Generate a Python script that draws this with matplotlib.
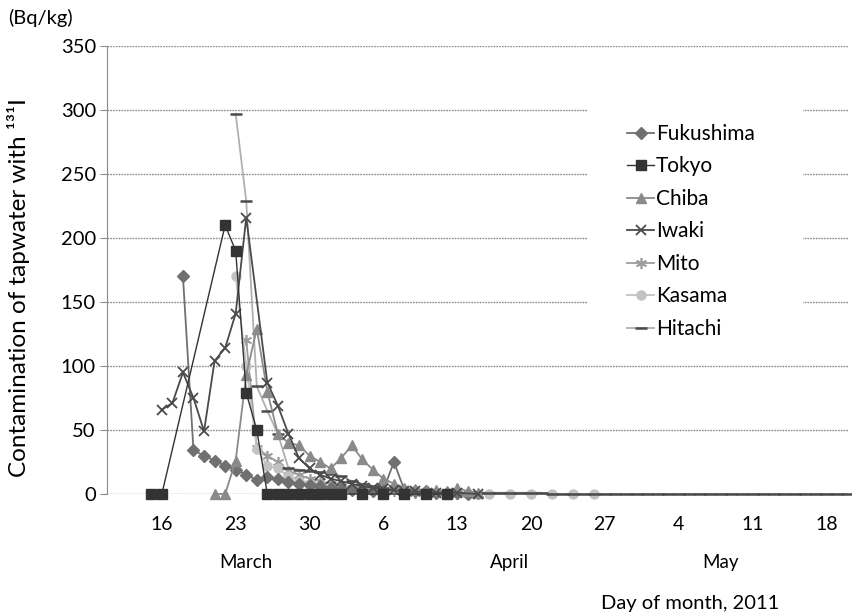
import numpy as np
import matplotlib
matplotlib.use("Agg")
import matplotlib.pyplot as plt
import matplotlib.transforms as mtransforms
from matplotlib.patches import Rectangle

plt.rcParams['font.family'] = ['Lato', 'DejaVu Sans']

# Day numbers counted from 1 March 2011 (1 April = 32, 1 May = 62)
fukushima_days = [18, 19, 20, 21, 22, 23, 24, 25, 26, 27, 28, 29, 30, 31, 32,
                  33, 34, 35, 36, 37, 38, 39, 40, 41, 42, 43, 44, 45]
fukushima = [170, 34, 30, 26, 22, 19, 15, 11, 13, 12, 9, 8, 7, 6, 5,
             4, 3, 3, 2, 3, 25, 3, 2, 2, 1, 1, 1, 0]

tokyo_days = [15, 16, 22, 23, 24, 25, 26, 27, 28, 29, 30, 31, 32, 33,
              35, 37, 39, 41, 43]
tokyo = [0, 0, 210, 190, 79, 50, 0, 0, 0, 0, 0, 0, 0, 0,
         0, 0, 0, 0, 0]

chiba_days = [21, 22, 23, 24, 25, 26, 27, 28, 29, 30, 31, 32, 33, 34, 35,
              36, 37, 38, 39, 40, 41, 42, 43, 44, 45, 46]
chiba = [0, 0, 26, 93, 129, 80, 47, 40, 38, 30, 25, 20, 28, 38, 27,
         19, 12, 8, 5, 4, 3, 3, 2, 5, 2, 1]

iwaki_days = [16, 17, 18, 19, 20, 21, 22, 23, 24, 26, 27, 28, 29, 30, 31,
              32, 33, 34, 35, 36, 37, 38, 39, 40, 42, 44, 46]
iwaki = [66, 71, 95, 75, 49, 104, 114, 141, 216, 87, 69, 47, 28, 20, 15,
         12, 10, 8, 6, 5, 4, 3, 2, 2, 1, 1, 0]

mito_days = [24, 25, 26, 27, 28, 29, 30, 31, 32, 33, 34, 35, 36, 37, 38,
             39, 40, 41, 42, 43, 44, 45, 46]
mito = [120, 36, 30, 25, 18, 15, 12, 10, 8, 6, 5, 4, 3, 2, 2,
        1, 1, 1, 1, 0, 0, 0, 0]

kasama_days = [23, 24, 25, 26, 27, 28, 29, 30, 31, 32, 33, 35, 37, 39, 41,
               43, 45, 47, 49, 51, 53, 55, 57]
kasama = [170, 100, 35, 22, 20, 14, 10, 8, 6, 5, 3, 0, 0, 0, 0,
          0, 0, 0, 0, 0, 0, 0, 0]

hitachi_days = list(range(23, 82))
hitachi = [297, 229, 84, 65, 47, 20, 19, 18, 17, 16, 14, 10, 8, 6, 5,
           4, 3, 3, 2, 2, 2, 1, 1, 1, 1, 1, 1, 1, 1, 1,
           0, 0, 0, 0, 0, 0, 0, 0, 0, 0, 0, 0, 0, 0, 0,
           0, 0, 0, 0, 0, 0, 0, 0, 0, 0, 0, 0, 0, 0]

tick_days = [16, 23, 30, 37, 44, 51, 58, 65, 72, 79]
tick_labels = ['16', '23', '30', '6', '13', '20', '27', '4', '11', '18']
months = ['March', 'April', 'May']
month_days = [24, 49, 69]

fig = plt.figure(figsize=(8.52, 6.14), dpi=100)
ax = fig.add_axes([107 / 852, 1 - 494 / 614, 741 / 852, 448 / 614])

common = dict(clip_on=False, linewidth=1.3)
ax.plot(fukushima_days, fukushima, color='#707070', marker='D', markersize=6.5,
        label='Fukushima', zorder=4, **common)
ax.plot(tokyo_days, tokyo, color='#333333', marker='s', markersize=6.5,
        label='Tokyo', zorder=5, clip_on=False, linewidth=1.0)
ax.plot(chiba_days, chiba, color='#8a8a8a', marker='^', markersize=7,
        label='Chiba', zorder=4, **common)
ax.plot(iwaki_days, iwaki, color='#4a4a4a', marker='x', markersize=7,
        markeredgewidth=1.3, label='Iwaki', zorder=4, **common)
ax.plot(mito_days, mito, color='#9c9c9c', marker=(6, 2, 0), markersize=8,
        markeredgewidth=1.2, label='Mito', zorder=3, **common)
ax.plot(kasama_days, kasama, color='#c2c2c2', marker='o', markersize=6.5,
        label='Kasama', zorder=3, **common)
ax.plot(hitachi_days, hitachi, color='#b0b0b0', marker='_', markersize=8,
        markeredgewidth=1.8, markeredgecolor='#4a4a4a',
        label='Hitachi', zorder=3, **common)

ax.set_xlim(10.8, 81.05)
ax.set_ylim(0, 350)
ax.set_yticks(np.arange(0, 351, 50))
ax.set_xticks(tick_days)
ax.set_xticklabels(tick_labels)

ax.yaxis.grid(True, color='#8c8c8c', linewidth=1.0, linestyle=(0, (1.2, 0.8)))
ax.set_axisbelow(True)
for side in ['top', 'right', 'bottom']:
    ax.spines[side].set_visible(False)
ax.spines['left'].set_color('#8c8c8c')
ax.spines['left'].set_linestyle((0, (1.2, 0.8)))
ax.tick_params(axis='y', length=5, color='#8c8c8c', labelsize=14.5, pad=3)
ax.tick_params(axis='x', length=0, labelsize=14, pad=16)

ax.set_ylabel('Contamination of tapwater with ¹³¹I', fontsize=17.5)
ax.yaxis.set_label_coords(-0.104, 0.46)

# month names under the day labels
trans = mtransforms.blended_transform_factory(ax.transData, ax.transAxes)
for name, d in zip(months, month_days):
    ax.text(d, -0.152, name, transform=trans, ha='center', va='center', fontsize=13.5)

fig.text(690 / 852, 1 - 603 / 614, 'Day of month, 2011', ha='center', va='center',
         fontsize=14.5)
fig.text(8 / 852, 1 - 18 / 614, '(Bq/kg)', ha='left', va='center', fontsize=14.5)

# white legend area, wider than the entries, hiding the gridlines behind it
ax.add_patch(Rectangle((0.648, 0.31), 0.2915, 0.569, transform=ax.transAxes,
                       facecolor='white', edgecolor='none', zorder=2))
leg = ax.legend(loc='upper left', bbox_to_anchor=(0.7018, 0.826),
                frameon=False, fontsize=15, labelspacing=0.6, handlelength=1.3,
                handletextpad=0.1, borderpad=0, borderaxespad=0, numpoints=1)
leg.set_zorder(10)

fig.savefig('out.png', dpi=100)
